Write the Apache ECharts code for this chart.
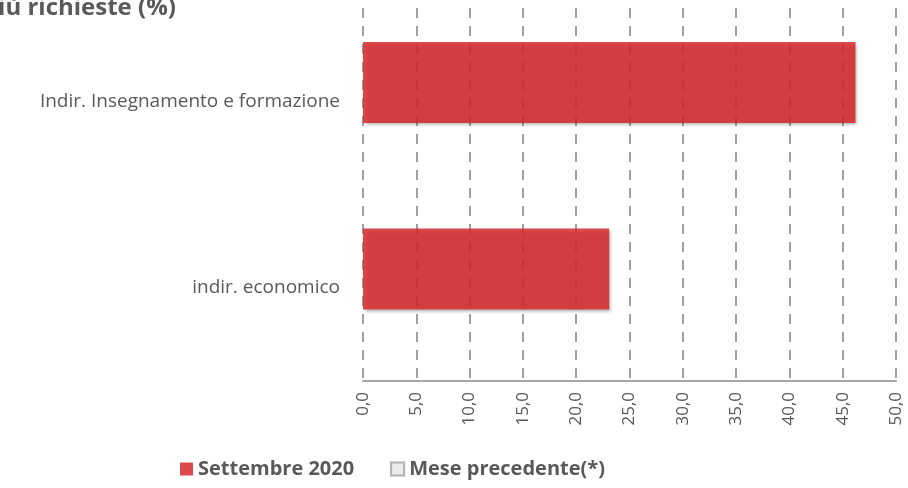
<!DOCTYPE html>
<html>
<head>
<meta charset="utf-8">
<script src="https://cdn.jsdelivr.net/npm/echarts@6/dist/echarts.min.js"></script>
<style>
  html, body { margin: 0; padding: 0; background: #fff; }
  #chart { width: 908px; height: 488px; }
</style>
</head>
<body>
<div id="chart"></div>
<script>
// categories, top to bottom
var categories = ['Indir. Insegnamento e formazione', 'indir. economico'];
var settembre2020 = [46.2, 23.1];
var mesePrecedente = [null, null];
var seriesNames = ['Settembre 2020', 'Mese precedente(*)'];
var titleText = 'Più richieste (%)';

var textColor = '#595959';
var fontFamily = '"Open Sans", "Liberation Sans", sans-serif';

var chart = echarts.init(document.getElementById('chart'));
chart.setOption({
  animation: false,
  title: {
    text: titleText,
    left: -22,
    top: -9,
    textStyle: { color: textColor, fontFamily: fontFamily, fontWeight: 'bold', fontSize: 24 }
  },
  legend: {
    left: 175,
    top: 454,
    icon: 'rect',
    itemWidth: 13,
    itemHeight: 13,
    itemGap: 36,
    textStyle: { color: textColor, fontFamily: fontFamily, fontWeight: 'bold', fontSize: 20 },
    data: seriesNames
  },
  grid: { left: 363, right: 12, top: 8, bottom: 107, containLabel: false },
  xAxis: {
    type: 'value',
    min: 0,
    max: 50,
    interval: 5,
    axisLine: { show: true, lineStyle: { color: '#a6a6a6', width: 2 } },
    axisTick: { show: false },
    axisLabel: {
      rotate: 90,
      margin: 11,
      color: textColor,
      fontFamily: fontFamily,
      fontSize: 17,
      formatter: function (v) { return v.toFixed(1).replace('.', ','); }
    },
    splitLine: { show: true, lineStyle: { color: '#a0a0a0', width: 2, type: [10, 8] } }
  },
  yAxis: {
    type: 'category',
    inverse: true,
    data: categories,
    axisLine: { show: false },
    axisTick: { show: false },
    axisLabel: { margin: 23, color: textColor, fontFamily: fontFamily, fontSize: 19 }
  },
  series: [
    {
      name: seriesNames[0],
      type: 'bar',
      data: settembre2020,
      barWidth: 81,
      barGap: '-54%',
      itemStyle: {
        color: 'rgba(215,40,44,0.85)',
        shadowBlur: 3,
        shadowOffsetX: 2,
        shadowOffsetY: 2,
        shadowColor: 'rgba(0,0,0,0.35)'
      }
    },
    {
      name: seriesNames[1],
      type: 'bar',
      data: mesePrecedente,
      barWidth: 81,
      itemStyle: { color: '#ececec', borderColor: '#b0b0b0', borderWidth: 1 }
    }
  ]
});
</script>
</body>
</html>
